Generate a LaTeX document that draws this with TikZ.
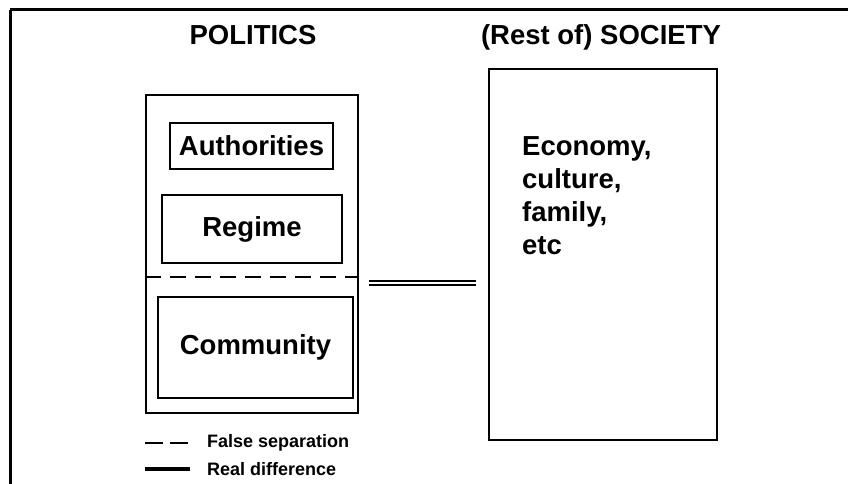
\documentclass[tikz,border=0pt]{standalone}
\usepackage{fontspec}
\setmainfont{Liberation Sans}
\usetikzlibrary{calc}
\begin{document}
\begin{tikzpicture}[x=1pt,y=-1pt,
  bigfont/.style={font=\fontsize{27.5}{33}\selectfont\bfseries},
  smallfont/.style={font=\fontsize{18}{21}\selectfont\bfseries},
  outerbox/.style={draw,line width=2.4pt,inner sep=0pt},
  innerbox/.style={draw,line width=1.4pt,inner sep=0pt,bigfont},
  falsesep/.style={line width=2pt,dash pattern=on 16pt off 9pt},
  realdiff/.style={line width=1.4pt,double,double distance=2.6pt},
  legsolid/.style={line width=4pt},
  legdash/.style={line width=1.6pt,dash pattern=on 18pt off 7pt}]
\useasboundingbox (0,0) rectangle (848,484);
% frame: top and left rules
\draw[line width=3pt] (10,10) -- (848,10);
\draw[line width=3pt] (10,10) -- (10,484);

% headings
\node[bigfont] (poltitle) at (253,35) {POLITICS};
\node[bigfont] (soctitle) at (601,37) {(Rest of) SOCIETY};

% politics column
\node[outerbox,minimum width=212,minimum height=318] (politics) at (252,254) {};
\node[innerbox,minimum width=163,minimum height=46] (auth) at (251.5,146) {Authorities};
\node[innerbox,minimum width=180,minimum height=68] (regime) at (252,229) {Regime};
\node[innerbox,minimum width=195,minimum height=101] (community) at (255.5,347.5) {Community};
\coordinate (sepL) at (politics.west |- 0,277);
\coordinate (sepR) at (politics.east |- 0,277);
\draw[falsesep] (sepL) -- (sepR);

% rest of society
\node[outerbox,line width=2.8pt,minimum width=228,minimum height=371] (society) at (603,254.5) {};
\node[bigfont,align=left,anchor=north west,inner sep=0pt] (socitems) at (522,136)
  {Economy,\\culture,\\family,\\etc};

% link between the two spheres
\draw[realdiff,shorten <=10pt,shorten >=12pt] ($(sepR)+(0,6)$) -- ($(sepR -| society.west)+(0,6)$);

% key
\coordinate (ldA) at (145,443);
\coordinate (ldB) at (189,443);
\coordinate (lsA) at (145,469);
\coordinate (lsB) at (190,469);
\draw[legdash] (ldA) -- (ldB);
\draw[legsolid] (lsA) -- (lsB);
\node[smallfont,anchor=west,inner sep=0pt] (lgfalse) at (207,443) {False separation};
\node[smallfont,anchor=west,inner sep=0pt] (lgreal) at (207,469) {Real difference};
\end{tikzpicture}
\end{document}
